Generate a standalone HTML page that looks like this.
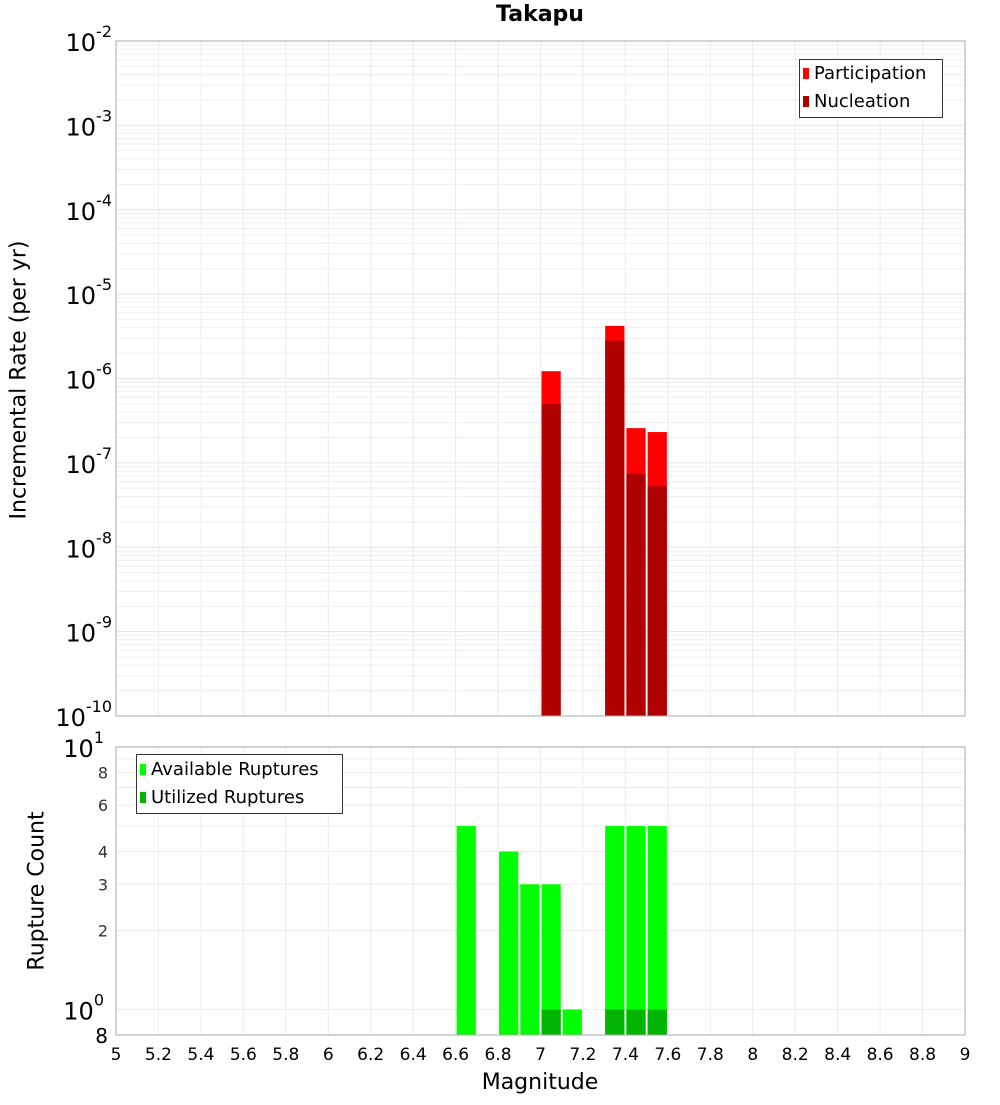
<!DOCTYPE html>
<html><head><meta charset="utf-8"><style>
body{margin:0;background:#fff;font-family:"Liberation Sans","DejaVu Sans",sans-serif}
svg text{font-family:"DejaVu Sans","Liberation Sans",sans-serif}
</style></head><body>
<svg id="c" width="1000" height="1100" xmlns="http://www.w3.org/2000/svg"></svg>
<script>
const mags=[6.65,6.85,6.95,7.05,7.15,7.35,7.45,7.55];
const partRates=[0,0,0,1.22e-6,0,4.2e-6,2.58e-7,2.32e-7];
const nuclRates=[0,0,0,4.97e-7,0,2.8e-6,7.4e-8,5.3e-8];
const availCounts=[5,4,3,3,1,5,5,5];
const usedCounts=[0,0,0,1,0,1,1,1];
const xTicks=[5,5.2,5.4,5.6,5.8,6,6.2,6.4,6.6,6.8,7,7.2,7.4,7.6,7.8,8,8.2,8.4,8.6,8.8,9];
const topExps=[-10,-9,-8,-7,-6,-5,-4,-3,-2];
const botTicks=[2,3,4,6,8];

const svg=document.getElementById('c');
const NS='http://www.w3.org/2000/svg';
function el(t,a,p){const e=document.createElementNS(NS,t);for(const k in a)e.setAttribute(k,a[k]);(p||svg).appendChild(e);return e;}
const L=116,R=965,T1=41,B1=716,T2=747,B2=1035;
const x=m=>L+(m-5)/4*(R-L);
const y1=v=>B1-(Math.log10(v)+10)/8*(B1-T1);
const y2=v=>B2-(Math.log10(v)-Math.log10(0.8))/(1-Math.log10(0.8))*(B2-T2);

// grids
for(let e=-10;e<-2;e++)for(let k=1;k<10;k++){const yy=y1(k*Math.pow(10,e));
 const g=el('line',{x1:L,x2:R,y1:yy,y2:yy,stroke:k==1?'#e4e4e4':'#efefef','stroke-width':1});
 }
for(let k=1;k<=10;k++){const yy=y2(k);
 const g=el('line',{x1:L,x2:R,y1:yy,y2:yy,stroke:'#ececec'});
 }
xTicks.forEach(t=>{
 const a=el('line',{x1:x(t),x2:x(t),y1:T1,y2:B1,stroke:'#ececec'});
 
 const b=el('line',{x1:x(t),x2:x(t),y1:T2,y2:B2,stroke:'#ececec'});
 
});

// top bars
mags.forEach((m,i)=>{
 const x0=x(m-0.05)+1,w=x(m+0.05)-x(m-0.05)-2;
 if(partRates[i]>0){const r=el('rect',{x:x0,y:y1(partRates[i]),width:w,height:B1-y1(partRates[i]),fill:'#ff0000'});
  }
 if(nuclRates[i]>0){const r=el('rect',{x:x0,y:y1(nuclRates[i]),width:w,height:B1-y1(nuclRates[i]),fill:'#b00000'});
  }
 if(availCounts[i]>0){const r=el('rect',{x:x0,y:y2(availCounts[i]),width:w,height:B2-y2(availCounts[i]),fill:'#00ff00'});
  }
 if(usedCounts[i]>0){const r=el('rect',{x:x0,y:y2(usedCounts[i]),width:w,height:B2-y2(usedCounts[i]),fill:'#00b400'});
  }
});

// frames
let f=el('rect',{x:L,y:T1,width:R-L,height:B1-T1,fill:'none',stroke:'#aaa'});

f=el('rect',{x:L,y:T2,width:R-L,height:B2-T2,fill:'none',stroke:'#aaa'});


// top y labels
topExps.forEach(e=>{
 const t=el('text',{x:112,y:y1(Math.pow(10,e))+10,'text-anchor':'end','font-size':24,fill:'#000'});
 
 t.textContent='10';
 const s=el('tspan',{dy:-14,'font-size':16},t);s.textContent=String(e);
});
// bottom y labels
[[10,'1'],[1,'0']].forEach(([v,e])=>{
 const t=el('text',{x:104,y:y2(v)+10,'text-anchor':'end','font-size':24,fill:'#000'});
 
 t.textContent='10';
 const s=el('tspan',{dy:-14,'font-size':16},t);s.textContent=e;
});
botTicks.forEach(v=>{
 const t=el('text',{x:108,y:y2(v)+6,'text-anchor':'end','font-size':16,fill:'#333'});
 
 t.textContent=v;
});
let t8=el('text',{x:108,y:B2+8,'text-anchor':'end','font-size':20,fill:'#000'});
t8.textContent='8';
xTicks.forEach(v=>{
 const t=el('text',{x:x(v),y:1060,'text-anchor':'middle','font-size':17,fill:'#000'});
 
 t.textContent=String(v);
});
</script>
<div style="position:absolute;left:0;top:2px;width:1000px;text-align:center;padding-left:80px;box-sizing:border-box;font:bold 22px 'DejaVu Sans','Liberation Sans',sans-serif">Takapu</div>
<div style="position:absolute;left:19px;top:380px;transform:translate(-50%,-50%) rotate(-90deg);white-space:nowrap;font:22px 'DejaVu Sans','Liberation Sans',sans-serif">Incremental Rate (per yr)</div>
<div style="position:absolute;left:37px;top:891px;transform:translate(-50%,-50%) rotate(-90deg);white-space:nowrap;font:22px 'DejaVu Sans','Liberation Sans',sans-serif">Rupture Count</div>
<div style="position:absolute;left:540px;top:1070px;transform:translateX(-50%);white-space:nowrap;font:22px 'DejaVu Sans','Liberation Sans',sans-serif">Magnitude</div>
<div style="position:absolute;left:799px;top:59px;width:142px;height:57px;border:1px solid #333;background:#fff;font:18px 'DejaVu Sans','Liberation Sans',sans-serif">
 <div style="position:absolute;left:3px;top:3px;white-space:nowrap"><span style="display:inline-block;width:6px;height:11px;background:#f00;margin-right:5px"></span>Participation</div>
 <div style="position:absolute;left:3px;top:31px;white-space:nowrap"><span style="display:inline-block;width:6px;height:11px;background:#b00000;margin-right:5px"></span>Nucleation</div>
</div>
<div style="position:absolute;left:136px;top:754px;width:205px;height:58px;border:1px solid #333;background:#fff;font:18px 'DejaVu Sans','Liberation Sans',sans-serif">
 <div style="position:absolute;left:3px;top:4px;white-space:nowrap"><span style="display:inline-block;width:6px;height:11px;background:#0f0;margin-right:5px"></span>Available Ruptures</div>
 <div style="position:absolute;left:3px;top:32px;white-space:nowrap"><span style="display:inline-block;width:6px;height:11px;background:#00b400;margin-right:5px"></span>Utilized Ruptures</div>
</div>
</body></html>
